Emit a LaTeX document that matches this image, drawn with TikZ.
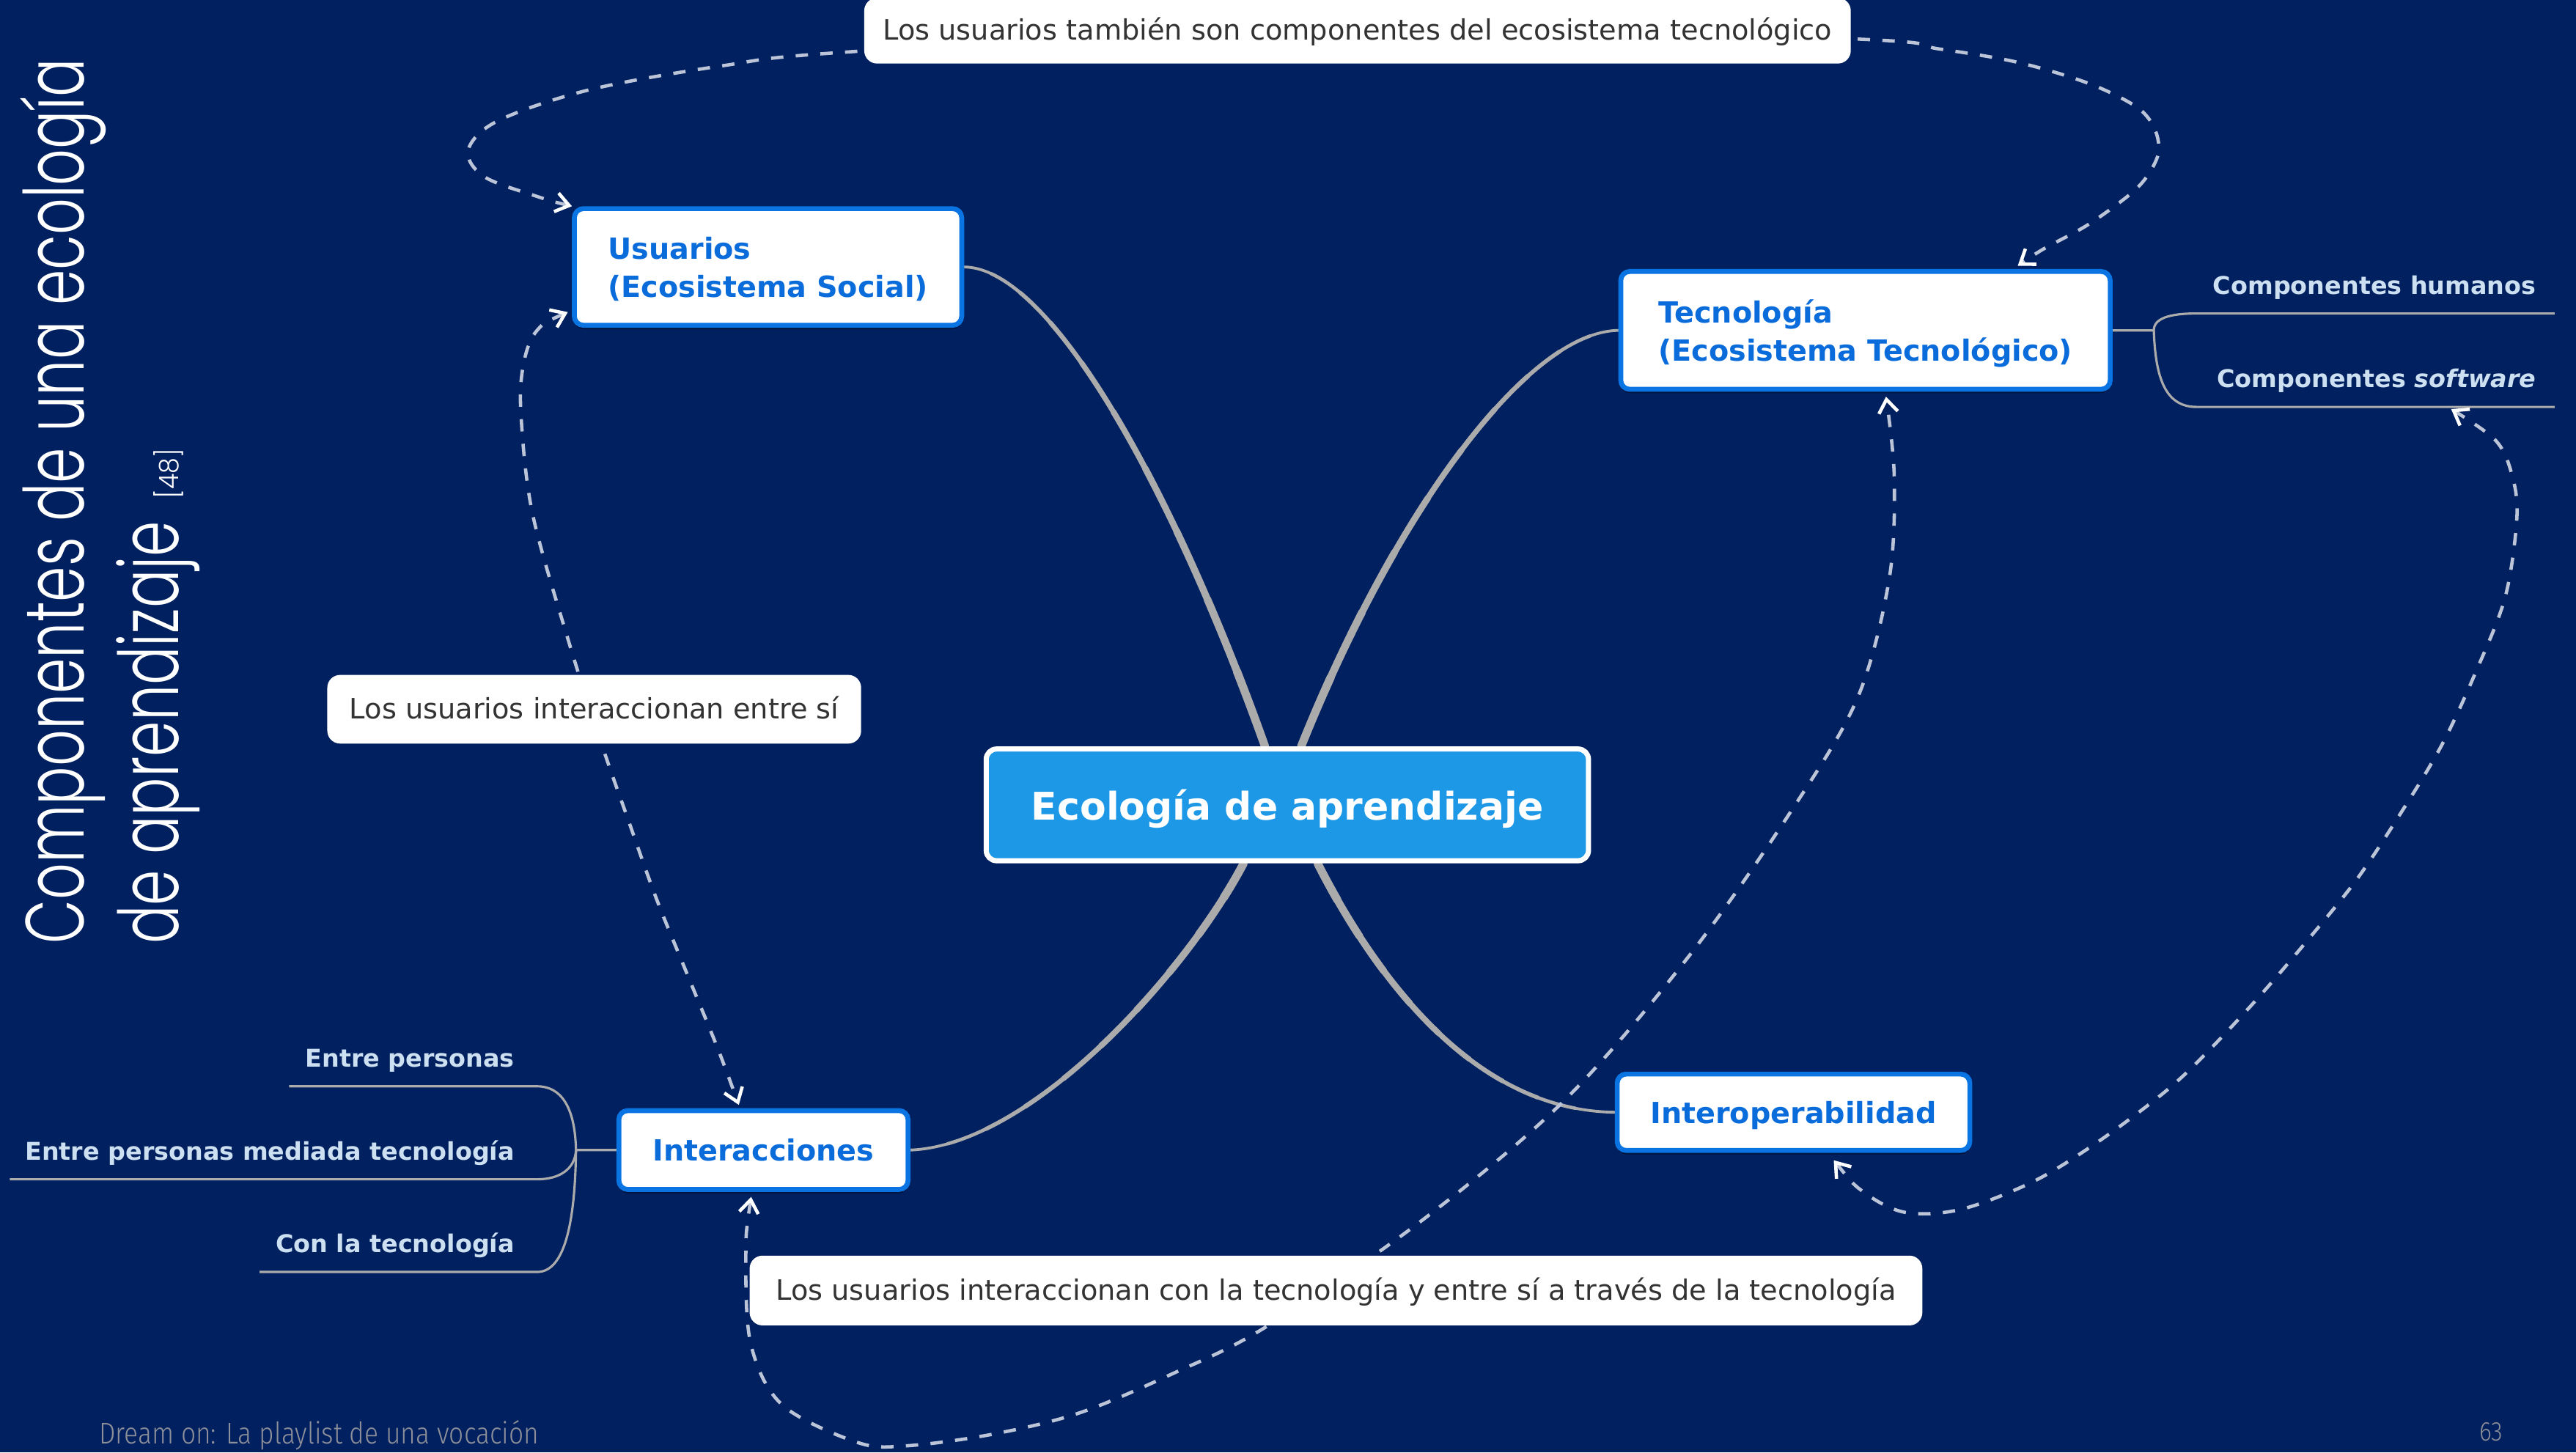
\documentclass[tikz,border=0pt]{standalone}
\usepackage{fontspec}
\usepackage{graphicx}
\usetikzlibrary{calc,arrows.meta,shadows}
\setmainfont{DejaVu Sans}
\newfontfamily\dv{DejaVu Sans}
\IfFontExistsTF{Poppins Light}{\gdef\tfname{Poppins Light}}{%
  \IfFontExistsTF{Lato Light}{\gdef\tfname{Lato Light}}{\gdef\tfname{Open Sans}}}
\IfFontExistsTF{Fira Sans Light}{\gdef\ffname{Fira Sans Light}}{\gdef\ffname{Fira Sans}}
\newfontfamily\titlefont{\tfname}
\newfontfamily\footfont{\ffname}
\newlength\tlw
\newlength\tlh
\AtBeginDocument{%
  \settowidth{\tlw}{\fontsize{10}{12}\titlefont Componentes de una ecología}%
  \settoheight{\tlh}{\fontsize{10}{12}\titlefont C}%
  \ifdim\tlw<1pt \global\setlength\tlw{160pt}\fi
  \ifdim\tlh<1pt \global\setlength\tlh{7pt}\fi
  \pgfmathsetmacro{\tscale}{12.08cm/\tlw}%
  \pgfmathsetmacro{\tvscale}{22.7pt/\tlh}%
  \xdef\tscale{\tscale}\xdef\tvscale{\tvscale}}
\pgfdeclarelayer{bglayer}
\pgfdeclarelayer{edgelayer}
\pgfsetlayers{bglayer,edgelayer,main}
\definecolor{bgc}{HTML}{002060}
\definecolor{nodeblue}{HTML}{0A74E2}
\definecolor{txtblue}{HTML}{0A6CDA}
\definecolor{centerblue}{HTML}{1C98E6}
\definecolor{linegray}{HTML}{ABABAB}
\definecolor{dashc}{HTML}{BCC4D8}
\definecolor{subtxt}{HTML}{CDE0F2}
\definecolor{calltxt}{HTML}{333333}
\definecolor{footc}{HTML}{8D8F99}
\tikzset{
  topic/.style={draw=nodeblue, line width=1.9pt, fill=white, rounded corners=3.5pt,
    text=txtblue, font=\dv\bfseries\fontsize{11.3}{14.7}\selectfont, align=left,
    inner sep=0pt, text depth=0pt,
    drop shadow={shadow xshift=0pt, shadow yshift=-1.5pt, opacity=0.35, fill=black}},
  centertopic/.style={draw=white, line width=2pt, fill=centerblue, rounded corners=4pt,
    text=white, font=\dv\bfseries\fontsize{14.8}{18}\selectfont, inner sep=0pt, text depth=0pt},
  callout/.style={fill=white, rounded corners=5pt, text=calltxt,
    font=\dv\fontsize{10.9}{13}\selectfont, inner sep=0pt, text height=0.95em, text depth=0.21em},
  sublabel/.style={text=subtxt, font=\dv\bfseries\fontsize{9.5}{11}\selectfont, inner sep=0pt, anchor=base east},
  titletext/.style={rotate=90, anchor=base west, inner sep=0pt, text=white},
  branch/.style={draw=linegray, line width=0.9pt},
  dasharrow/.style={draw=dashc, line width=1.3pt, dash pattern=on 4.8pt off 4.8pt,
    >={Straight Barb[length=1.8mm,width=2.6mm,line width=1.3pt,color=white]}, <->}
}
\newcommand\taperline[4]{%
  \path #1 coordinate (tpA) #2 coordinate (tpB) #3 coordinate (tpC) #4 coordinate (tpD);
  \foreach \k in {0,...,9}{%
    \pgfmathsetmacro\ta{\k/10}\pgfmathsetmacro\tb{(\k+1)/10}\pgfmathsetmacro\wd{3.2-2.1*\k/9}%
    \begin{pgfscope}
    \pgfsetlinewidth{\wd pt}\pgfsetstrokecolor{linegray}\pgfsetroundcap
    \pgfpathcurvebetweentime{\ta}{\tb}{\pgfpointanchor{tpA}{center}}{\pgfpointanchor{tpB}{center}}{\pgfpointanchor{tpC}{center}}{\pgfpointanchor{tpD}{center}}
    \pgfusepath{stroke}
    \end{pgfscope}}}
\begin{document}
\begin{tikzpicture}[x=0.022411cm,y=-0.022411cm]
\begin{pgfonlayer}{bglayer}
\fill[bgc] (0,0) rectangle (1568,884);
\end{pgfonlayer}
\useasboundingbox (0,0) rectangle (1568,884);

% title
\node[titletext] (title1) at (51.3,575)
  {\scalebox{\tscale}[\tvscale]{\fontsize{10}{12}\titlefont Componentes de una ecología}};
\node[titletext] (title2) at (108.6,575)
  {\scalebox{\tscale}[\tvscale]{\fontsize{10}{12}\titlefont de aprendizaje}};
\node[titletext] (ref) at (108.6,304)
  {\resizebox{0.686cm}{0.34cm}{\titlefont [48]}};

% main topics
\node[topic, minimum width=6.678cm, minimum height=1.607cm] (tec) at (1135.5,201.1)
  {Tecnología\\(Ecosistema Tecnológico)};
\node[topic, minimum width=5.285cm, minimum height=1.591cm] (usu) at (467.5,162.5)
  {Usuarios\\(Ecosistema Social)};
\node[centertopic, minimum width=8.217cm, minimum height=1.524cm] (eco) at (783.6,489.9)
  {Ecología de aprendizaje};
\node[topic, minimum width=3.946cm, minimum height=1.076cm] (inter) at (464.7,700)
  {Interacciones};
\node[topic, minimum width=4.811cm, minimum height=1.042cm] (interop) at (1091.7,677)
  {Interoperabilidad};

% sub labels
\node[sublabel] (hum) at (1544,179) {Componentes humanos};
\node[sublabel] (sw) at (1544,236) {Componentes \textit{software}};
\node[sublabel] (ep) at (313.5,649.3) {Entre personas};
\node[sublabel] (epm) at (313.5,706) {Entre personas mediada tecnología};
\node[sublabel] (clt) at (313.5,762.3) {Con la tecnología};

% callouts
\node[callout, minimum width=13.46cm, minimum height=0.896cm] (ctop) at (826.3,18.7)
  {Los usuarios también son componentes del ecosistema tecnológico};
\node[callout, minimum width=7.284cm, minimum height=0.937cm] (cmid) at (361.7,431.7)
  {Los usuarios interaccionan entre sí};
\node[callout, minimum width=16.0cm, minimum height=0.952cm] (cbot) at (813.2,785.5)
  {Los usuarios interaccionan con la tecnología y entre sí a través de la tecnología};

% footer
\node[anchor=base west, inner sep=0pt, text=footc] (foot) at (60,879)
  {\resizebox{6.0cm}{0.32cm}{\footfont Dream on: La playlist de una vocación}};
\node[anchor=base west, inner sep=0pt, text=footc] (page) at (1509,877)
  {\resizebox{0.32cm}{0.25cm}{\footfont 63}};

\coordinate (tb) at (1311,201.1);
\coordinate (humL) at (1555,190.8);
\coordinate (swL) at (1555,247.7);
\coordinate (swtip) at (1492,249);
\coordinate (ib) at (350.6,700);
\coordinate (epL) at (176,661.2);
\coordinate (epmL) at (6,717.8);
\coordinate (cltL) at (158,774.2);

\begin{pgfonlayer}{edgelayer}
% main connectors (tapered)
\taperline{($(eco.north)+(-13.6,0)$)}{(715,300)}{(640,163)}{(usu.east)}
\taperline{($(eco.north)+(8.4,0)$)}{(850,310)}{(930,202)}{(tec.west)}
\taperline{($(eco.south)+(-26.6,0)$)}{(722,592)}{(628,697)}{(inter.east)}
\taperline{($(eco.south)+(18.4,0)$)}{(840,600)}{(900,676)}{(interop.west)}

% branches
\draw[branch] (tec.east) -- (tb) .. controls (1311,194) and (1320,190.8) .. (1337,190.8) -- (humL);
\draw[branch] (tb) .. controls (1312,230) and (1318,247.7) .. (1337,247.7) -- (swL);
\draw[branch] (inter.west) -- (ib) .. controls (350,673) and (341,661.2) .. (327,661.2) -- (epL);
\draw[branch] (ib) .. controls (350,712) and (340,717.8) .. (327,717.8) -- (epmL);
\draw[branch] (ib) .. controls (350,750) and (342,774.2) .. (327,774.2) -- (cltL);

% dashed relations
\draw[dasharrow] plot[smooth, tension=0.55] coordinates {(usu.north west) (326.7,119.5) (294.8,107.6)
  (284.9,91.6) (302.8,73.7) (358.6,54.7) (440,40) (518,31.5) (826,14) (1130.8,23.8) (1180.3,29.8)
  (1228,37.9) (1270.9,50.6) (1299.9,64.7) (1311,77.3) (1314,92.2) (1307.5,106.4) (1296.5,118.3)
  (1270.9,136.8) (1243.6,151.7) ($(tec.north)+(92.7,-2)$)};
\draw[dasharrow] plot[smooth, tension=0.55] coordinates {($(usu.south west)+(-2.5,-9.5)$) (327,201)
  (319,220) (317,250) (324,312) (346.4,391.3) (366.9,455) (382.3,498.8) (399.4,546.6) (418.1,592.5)
  (436.9,638.2) ($(inter.north)+(-15,-2)$)};
\draw[dasharrow] plot[smooth, tension=0.55] coordinates {($(inter.south)+(-7.5,3)$) (454,764) (457,818)
  (476,855) (522,878) (552,880) (604,873) (657,860) (714,836) (770,808) (864,744) (952,670)
  (1028,582) (1092,491) (1131,424) (1150,352) (1153,290) ($(tec.south)+(12.5,3)$)};
\draw[dasharrow] plot[smooth, tension=0.55] coordinates {($(interop.south)+(24.5,4.5)$) (1135,726)
  (1160,738) (1194,736) (1238,719) (1277,695) (1316,666) (1340,644) (1373,609) (1404,573)
  (1434,536) (1460,497) (1486,454) (1507,409) (1525,363) (1532,315) (1529,289) (1519,268) (swtip)};
\end{pgfonlayer}
\end{tikzpicture}
\end{document}
